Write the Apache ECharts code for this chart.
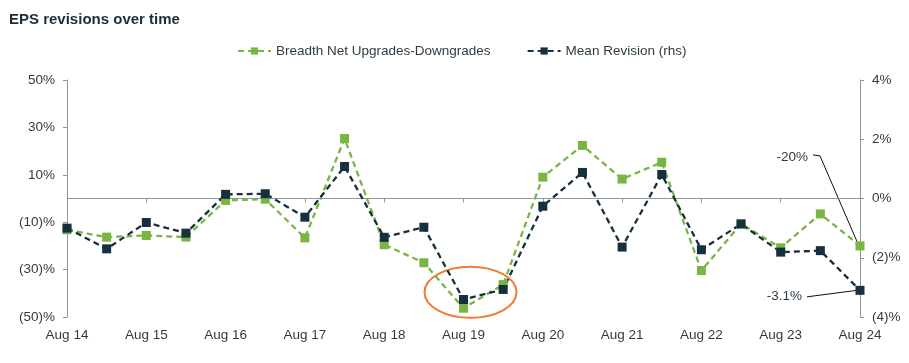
<!DOCTYPE html>
<html>
<head>
<meta charset="utf-8">
<script src="https://cdn.jsdelivr.net/npm/echarts@6/dist/echarts.min.js"></script>
<style>html,body{margin:0;padding:0;background:#fff}#c{width:909px;height:363px}</style>
</head>
<body>
<div id="c"></div>
<script>
const categories = ['Aug 14','Feb 15','Aug 15','Feb 16','Aug 16','Feb 17','Aug 17','Feb 18','Aug 18','Feb 19','Aug 19','Feb 20','Aug 20','Feb 21','Aug 21','Feb 22','Aug 22','Feb 23','Aug 23','Feb 24','Aug 24'];
const breadth = [-13.2,-16.3,-15.6,-16.3,-0.8,-0.3,-16.6,25.3,-19.5,-27.1,-46.3,-36.3,9.0,22.4,8.2,15.3,-30.4,-10.7,-20.8,-6.5,-20.0];
const meanRevision = [-1.0,-1.70,-0.81,-1.17,0.14,0.16,-0.63,1.08,-1.31,-0.97,-3.41,-3.07,-0.26,0.88,-1.64,0.81,-1.73,-0.86,-1.81,-1.76,-3.1];
const leftTicks = [-50,-30,-10,10,30,50];
const rightTicks = [-4,-2,0,2,4];
const seriesNames = ['Breadth Net Upgrades-Downgrades','Mean Revision (rhs)'];

const GREEN = '#7AB543', NAVY = '#16303E', AXIS = '#8E979D', TXT = '#2E3B45';
const FONT = 'Arial, "Liberation Sans", sans-serif';
function fmt(v){ return v < 0 ? '(' + Math.abs(v) + ')%' : v + '%'; }

const chart = echarts.init(document.getElementById('c'), null, {renderer:'canvas'});
chart.setOption({
  animation:false,
  textStyle:{fontFamily:FONT},
  title:{text:'EPS revisions over time', left:4, top:7, textStyle:{fontSize:15, fontWeight:'bold', color:'#1E2D38', fontFamily:FONT}},
  legend:{top:39, left:232, itemGap:36, itemWidth:33, itemHeight:9, textStyle:{fontSize:13.5, color:TXT, fontFamily:FONT}, data:seriesNames},
  grid:{left:67, right:49, top:80, bottom:46},
  xAxis:[
    {type:'category', data:categories, boundaryGap:false, position:'top',
     axisLine:{show:true, onZero:true, lineStyle:{color:AXIS, width:1}},
     axisTick:{show:true, interval:1, inside:true, length:4, lineStyle:{color:AXIS}},
     axisLabel:{show:false}, splitLine:{show:false}},
    {type:'category', data:categories, boundaryGap:false, position:'bottom',
     axisLine:{show:false, onZero:false}, axisTick:{show:false},
     axisLabel:{interval:1, margin:11, fontSize:13.5, color:TXT, fontFamily:FONT}, splitLine:{show:false}}
  ],
  yAxis:[
    {type:'value', min:-50, max:50, position:'left',
     axisLine:{show:true, lineStyle:{color:AXIS}},
     axisTick:{show:true, length:4, customValues:leftTicks, lineStyle:{color:AXIS}},
     axisLabel:{customValues:leftTicks, formatter:fmt, margin:12, fontSize:13.5, color:TXT, fontFamily:FONT},
     splitLine:{show:false}},
    {type:'value', min:-4, max:4, position:'right',
     axisLine:{show:true, lineStyle:{color:AXIS}},
     axisTick:{show:true, length:4, customValues:rightTicks, lineStyle:{color:AXIS}},
     axisLabel:{customValues:rightTicks, formatter:fmt, margin:12, fontSize:13.5, color:TXT, fontFamily:FONT},
     splitLine:{show:false}}
  ],
  series:[
    {name:seriesNames[0], type:'line', xAxisIndex:0, yAxisIndex:0, data:breadth,
     symbol:'rect', symbolSize:9, itemStyle:{color:GREEN},
     lineStyle:{color:GREEN, width:2.3, type:[6,4]}},
    {name:seriesNames[1], type:'line', xAxisIndex:0, yAxisIndex:1, data:meanRevision,
     symbol:'rect', symbolSize:9, itemStyle:{color:NAVY},
     lineStyle:{color:NAVY, width:2.3, type:[6,4]}}
  ]
});

const n = categories.length;
const pG = chart.convertToPixel({xAxisIndex:0, yAxisIndex:0}, [categories[n-1], breadth[n-1]]);
const pD = chart.convertToPixel({xAxisIndex:0, yAxisIndex:1}, [categories[n-1], meanRevision[n-1]]);
const pLow = chart.convertToPixel({xAxisIndex:0, yAxisIndex:0}, [categories[10], breadth[10]]);
function annFmt(v){ return v.toFixed(Number.isInteger(v) ? 0 : 1) + '%'; }

chart.setOption({
  graphic:[
    {type:'text', x:pG[0]-52, y:pG[1]-89, style:{text:annFmt(breadth[n-1]), align:'right', verticalAlign:'middle', font:'13.5px ' + FONT, fill:TXT}},
    {type:'polyline', shape:{points:[[pG[0]-47,pG[1]-91],[pG[0]-40,pG[1]-90],[pG[0]-2,pG[1]-2]]}, style:{stroke:'#111', lineWidth:1, fill:null}},
    {type:'text', x:pD[0]-58, y:pD[1]+6, style:{text:annFmt(meanRevision[n-1]), align:'right', verticalAlign:'middle', font:'13.5px ' + FONT, fill:TXT}},
    {type:'polyline', shape:{points:[[pD[0]-53,pD[1]+6.5],[pD[0]-3,pD[1]]]}, style:{stroke:'#111', lineWidth:1, fill:null}},
    {type:'ellipse', shape:{cx:pLow[0]+7, cy:pLow[1]-16, rx:46, ry:25.5}, style:{stroke:'#ED7D31', lineWidth:2, fill:null}}
  ]
});
</script>
</body>
</html>
